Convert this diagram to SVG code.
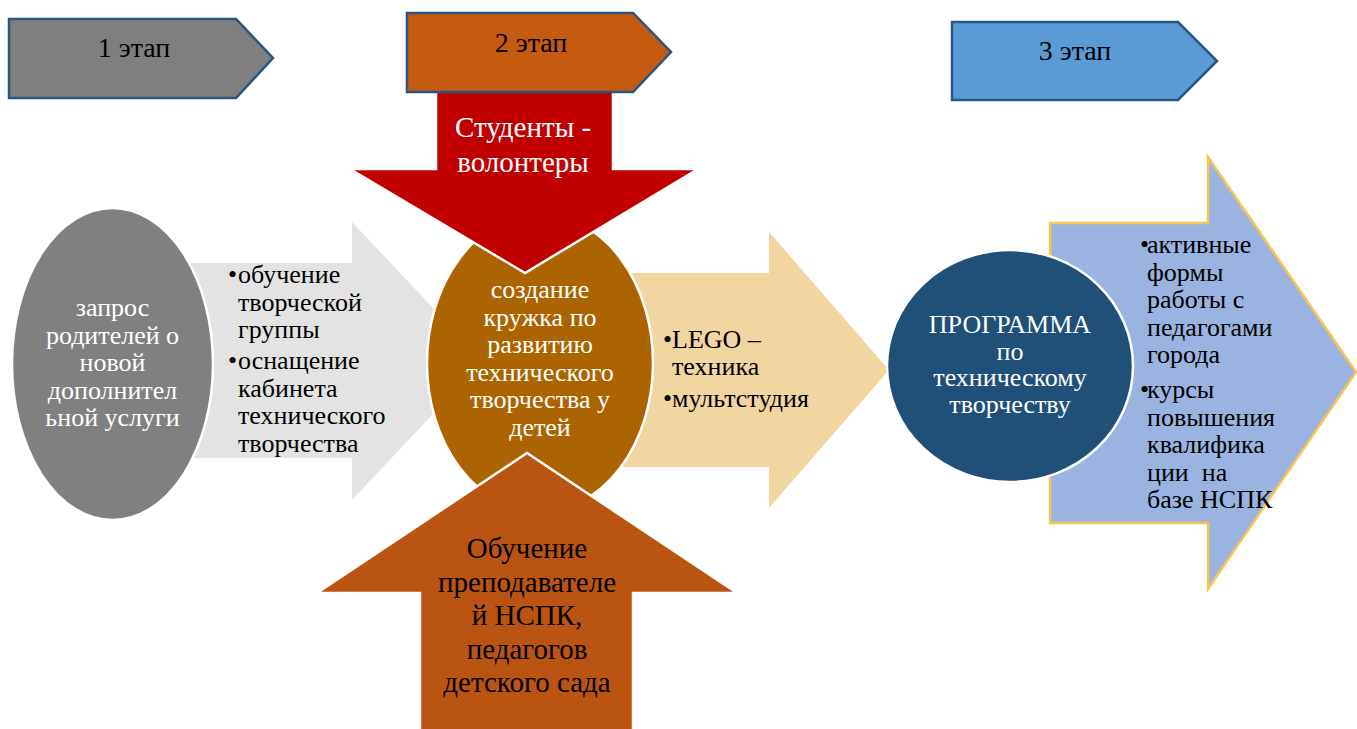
<svg xmlns="http://www.w3.org/2000/svg" width="1357" height="729" viewBox="0 0 1357 729">
<style>
.w{fill:#fff;}
.c{text-anchor:middle;}
.stage{stroke:#2A5580;stroke-width:2.5;}
.wb{stroke:#fff;stroke-width:2.5;}
</style>
<rect width="1357" height="729" fill="#fff"/>

<g id="connectors">
<g id="arrow-gray">
<polygon points="150,263 352,263 352,222 483,361 352,500 352,458 150,458" fill="#E3E3E3"/>
<text font-family="Liberation Serif" font-size="26" x="228" y="283">•</text>
<text font-family="Liberation Serif" font-size="26" x="238" y="283">обучение</text>
<text font-family="Liberation Serif" font-size="26" x="238" y="310.5">творческой</text>
<text font-family="Liberation Serif" font-size="26" x="238" y="338">группы</text>
<text font-family="Liberation Serif" font-size="26" x="228" y="369">•</text>
<text font-family="Liberation Serif" font-size="26" x="238" y="369">оснащение</text>
<text font-family="Liberation Serif" font-size="26" x="238" y="396.5">кабинета</text>
<text font-family="Liberation Serif" font-size="26" x="238" y="424">технического</text>
<text font-family="Liberation Serif" font-size="26" x="238" y="451.5">творчества</text>
</g>
<g id="arrow-beige">
<polygon points="620,273 769,273 769,232 889,370 769,508 769,467 620,467" fill="#F1D6A1"/>
<text font-family="Liberation Serif" font-size="26" x="663" y="348">•</text>
<text font-family="Liberation Serif" font-size="26" x="672" y="348">LEGO –</text>
<text font-family="Liberation Serif" font-size="26" x="672" y="375">техника</text>
<text font-family="Liberation Serif" font-size="26" x="663" y="407">•</text>
<text font-family="Liberation Serif" font-size="26" x="672" y="407">мультстудия</text>
</g>
<g id="arrow-blue">
<polygon points="1050,223 1208,223 1208,157 1356,372 1208,589 1208,523 1050,523" fill="#9BB3E0" stroke="#F8C650" stroke-width="2.5"/>
</g>
</g>

<g id="node-request">
<ellipse cx="112.5" cy="364" rx="100.5" ry="156" fill="#808080" class="wb"/>
<text font-family="Liberation Serif" font-size="26" class="w c" x="112.5" y="316">запрос</text>
<text font-family="Liberation Serif" font-size="26" class="w c" x="112.5" y="343.5">родителей о</text>
<text font-family="Liberation Serif" font-size="26" class="w c" x="112.5" y="371">новой</text>
<text font-family="Liberation Serif" font-size="26" class="w c" x="112.5" y="398.5">дополнител</text>
<text font-family="Liberation Serif" font-size="26" class="w c" x="112.5" y="426">ьной услуги</text>
</g>

<g id="node-program">
<ellipse cx="1010" cy="366" rx="123" ry="116" fill="#204F78" class="wb"/>
<text font-family="Liberation Serif" font-size="26" class="w c" x="1010" y="333">ПРОГРАММА</text>
<text font-family="Liberation Serif" font-size="26" class="w c" x="1010" y="359.5">по</text>
<text font-family="Liberation Serif" font-size="26" class="w c" x="1010" y="386">техническому</text>
<text font-family="Liberation Serif" font-size="26" class="w c" x="1010" y="412.5">творчеству</text>
</g>

<g id="node-blue-text">
<text font-family="Liberation Serif" font-size="26" x="1140" y="253">•</text>
<text font-family="Liberation Serif" font-size="26" x="1147" y="253">активные</text>
<text font-family="Liberation Serif" font-size="26" x="1147" y="280.5">формы</text>
<text font-family="Liberation Serif" font-size="26" x="1147" y="308">работы с</text>
<text font-family="Liberation Serif" font-size="26" x="1147" y="335.5">педагогами</text>
<text font-family="Liberation Serif" font-size="26" x="1147" y="363">города</text>
<text font-family="Liberation Serif" font-size="26" x="1140" y="398">•</text>
<text font-family="Liberation Serif" font-size="26" x="1147" y="398">курсы</text>
<text font-family="Liberation Serif" font-size="26" x="1147" y="425.5">повышения</text>
<text font-family="Liberation Serif" font-size="26" x="1147" y="453">квалифика</text>
<text font-family="Liberation Serif" font-size="26" x="1147" y="480.5" xml:space="preserve">ции  на</text>
<text font-family="Liberation Serif" font-size="26" x="1147" y="508">базе НСПК</text>
</g>

<g id="node-center">
<ellipse cx="540" cy="363" rx="113" ry="149" fill="#AB6400" class="wb"/>
<text font-family="Liberation Serif" font-size="26" class="w c" x="540" y="298">создание</text>
<text font-family="Liberation Serif" font-size="26" class="w c" x="540" y="325.5">кружка по</text>
<text font-family="Liberation Serif" font-size="26" class="w c" x="540" y="353">развитию</text>
<text font-family="Liberation Serif" font-size="26" class="w c" x="540" y="380.5">технического</text>
<text font-family="Liberation Serif" font-size="26" class="w c" x="540" y="408">творчества у</text>
<text font-family="Liberation Serif" font-size="26" class="w c" x="540" y="435.5">детей</text>
</g>

<g id="node-students">
<polygon points="436,88 613,88 613,169 698,169 525,273 350,169 436,169" fill="#C00000" class="wb"/>
<text font-family="Liberation Serif" font-size="29" class="w c" x="523" y="137">Студенты -</text>
<text font-family="Liberation Serif" font-size="29" class="w c" x="523" y="172">волонтеры</text>
</g>

<g id="node-training">
<polygon points="420,735 420,593 317,593 527,453 737,593 633,593 633,735" fill="#BA5413" class="wb"/>
<text font-family="Liberation Serif" font-size="29" class="c" x="527" y="558">Обучение</text>
<text font-family="Liberation Serif" font-size="29" class="c" x="527" y="591.5">преподавателе</text>
<text font-family="Liberation Serif" font-size="29" class="c" x="527" y="625">й НСПК,</text>
<text font-family="Liberation Serif" font-size="29" class="c" x="527" y="658.5">педагогов</text>
<text font-family="Liberation Serif" font-size="29" class="c" x="527" y="692">детского сада</text>
</g>

<g id="stage-1">
<polygon points="9,19 236,19 273,58 236,98 9,98" fill="#7F7F7F" class="stage"/>
<text font-family="Liberation Serif" font-size="28" class="c" x="134" y="57">1 этап</text>
</g>
<g id="stage-2">
<polygon points="407,13 633,13 671,52 633,92 407,92" fill="#C55A11" class="stage"/>
<text font-family="Liberation Serif" font-size="28" class="c" x="531" y="52">2 этап</text>
</g>
<g id="stage-3">
<polygon points="952,22 1178,22 1217,61 1178,100 952,100" fill="#5B9BD5" class="stage"/>
<text font-family="Liberation Serif" font-size="28" class="c" x="1075" y="60">3 этап</text>
</g>
</svg>
